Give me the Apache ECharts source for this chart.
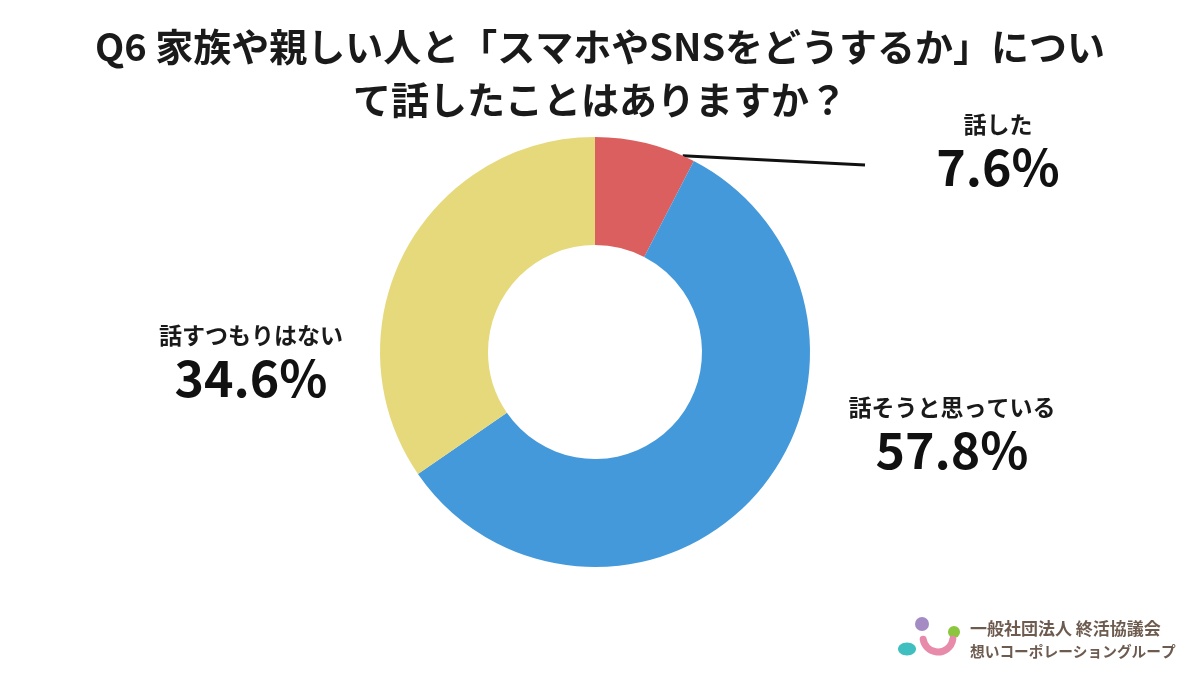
<!DOCTYPE html>
<html><head><meta charset="utf-8">
<script src="https://cdn.jsdelivr.net/npm/echarts@6/dist/echarts.min.js"></script>
<style>html,body{margin:0;padding:0;background:#fff}#c{width:1200px;height:675px}</style>
</head><body><div id="c"></div>
<script>
const titleLines = ['Q6 家族や親しい人と「スマホやSNSをどうするか」につい', 'て話したことはありますか？'];
const categories = ['話した', '話そうと思っている', '話すつもりはない'];
const values = [7.6, 57.8, 34.6];
const colors = ['#DB5F5E', '#4499DB', '#E6D97B'];
const logoLines = ['一般社団法人 終活協議会', '想いコーポレーショングループ'];

const FONT = '"Noto Sans CJK JP", "Noto Sans", sans-serif';
const CX = 595, CY = 352, R_IN = 107, R_OUT = 215;
const labelPos = [[998, 152], [952, 435], [251, 363]];
const total = values.reduce((a, b) => a + b, 0);
const leadAngle = (90 - 360 * values[0] / total * 0.88) * Math.PI / 180;
const leadStart = [CX + R_OUT * Math.cos(leadAngle), CY - R_OUT * Math.sin(leadAngle)];
const leadEnd = [865, 165];

const chart = echarts.init(document.getElementById('c'));
chart.setOption({
  backgroundColor: '#ffffff',
  animation: false,
  title: {
    text: titleLines.join('\n'),
    left: 'center', top: 20, padding: 0,
    textStyle: { fontFamily: FONT, fontSize: 38, fontWeight: 'bold', color: '#1a1a1a', lineHeight: 53, align: 'center' }
  },
  series: [{
    type: 'pie',
    center: [CX, CY],
    radius: [R_IN, R_OUT],
    startAngle: 90,
    clockwise: true,
    data: categories.map((n, i) => ({
      name: n, value: values[i],
      itemStyle: { color: colors[i] },
      labelLine: { show: i === 0 }
    })),
    label: {
      show: true,
      position: 'outside',
      formatter: p => '{n|' + p.name + '}\n{v|' + p.value.toFixed(1) + '%}',
      rich: {
        n: { fontFamily: FONT, fontSize: 23, fontWeight: 'bold', color: '#1a1a1a', lineHeight: 30, align: 'center' },
        v: { fontFamily: FONT, fontSize: 50, fontWeight: 'bold', color: '#111', lineHeight: 56, align: 'center' }
      }
    },
    labelLine: { show: true, lineStyle: { color: '#111', width: 3 } },
    labelLayout: function (params) {
      const i = params.dataIndex;
      const r = { x: labelPos[i][0], y: labelPos[i][1], align: 'center', verticalAlign: 'middle' };
      if (i === 0) r.labelLinePoints = [leadStart, leadEnd, leadEnd];
      return r;
    }
  }],
  graphic: [
    { type: 'circle', shape: { cx: 922, cy: 624, r: 7 }, style: { fill: '#A48BC4' } },
    { type: 'circle', shape: { cx: 954, cy: 632, r: 6 }, style: { fill: '#8CC63F' } },
    { type: 'arc', shape: { cx: 938, cy: 637, r: 15, startAngle: 0.15, endAngle: Math.PI - 0.15 }, style: { stroke: '#E88BAA', lineWidth: 7, fill: null, lineCap: 'round' } },
    { type: 'ellipse', shape: { cx: 907, cy: 649, rx: 9, ry: 6.5 }, style: { fill: '#3FBFBF' } },
    { type: 'text', x: 970, y: 629, style: { text: logoLines[0], font: 'bold 17px ' + FONT, fill: '#6e5b4f', verticalAlign: 'middle' } },
    { type: 'text', x: 970, y: 651, style: { text: logoLines[1], font: 'bold 14.7px ' + FONT, fill: '#6e5b4f', verticalAlign: 'middle' } }
  ]
});
</script></body></html>
